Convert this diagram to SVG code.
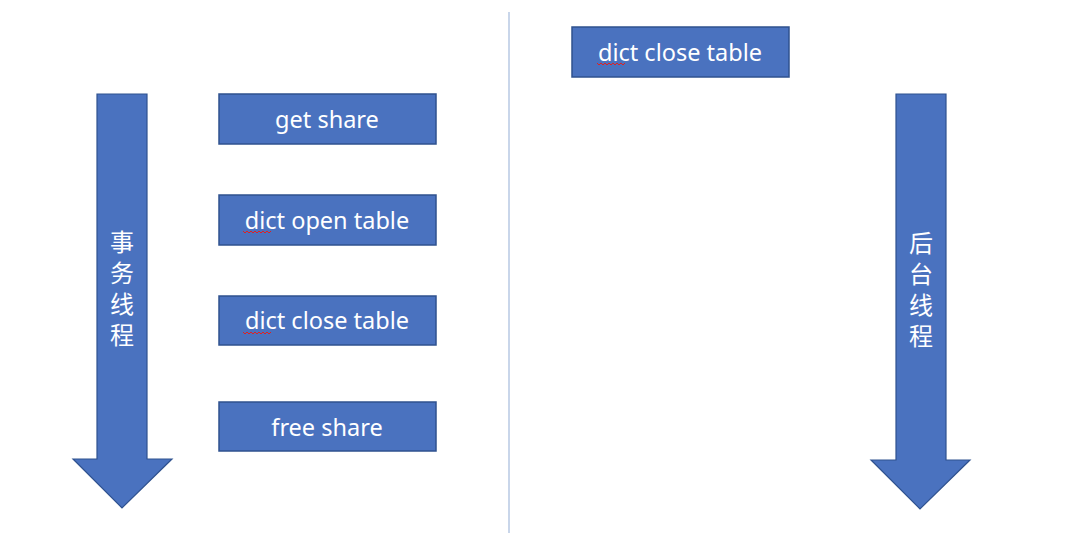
<svg xmlns="http://www.w3.org/2000/svg" width="1080" height="551" viewBox="0 0 1080 551">
<style>
.box{fill:#4A72BF;stroke:#2F528F;stroke-width:1.5}
.arrow{fill:#4A72BF;stroke:#2F528F;stroke-width:1.2}
.lbl{font-family:"Noto Sans","Liberation Sans",sans-serif;font-size:23.5px;fill:#fff;text-anchor:middle;dominant-baseline:central}
.cjk{font-family:"Noto Sans CJK SC",sans-serif;font-size:24px;fill:#fff;writing-mode:vertical-rl;text-orientation:upright;letter-spacing:7px}
.sq{fill:none;stroke:#e02020;stroke-width:1}
</style>
<rect width="1080" height="551" fill="#fff"/>
<g id="divider"><line x1="509" y1="12" x2="509" y2="533" stroke="#c9d6ea" stroke-width="2"/></g>
<g id="tx-thread">
<polygon class="arrow" points="97,94 147,94 147,459 172,459 122,508 73,459 97,459"/>
<text class="cjk" x="122" y="230">事务线程</text>
</g>
<g id="bg-thread">
<polygon class="arrow" points="896,94 946,94 946,460 970,460 920,509 871,460 896,460"/>
<text class="cjk" x="921" y="231">后台线程</text>
</g>
<g id="get-share"><rect class="box" x="219" y="94" width="217" height="50"/><text class="lbl" x="327" y="119">get share</text></g>
<g id="dict-open"><rect class="box" x="219" y="195" width="217" height="50"/><text class="lbl" x="327" y="220">dict open table</text>
<path class="sq" d="M243,231 l2,2 l2,-2 l2,2 l2,-2 l2,2 l2,-2 l2,2 l2,-2 l2,2 l2,-2 l2,2 l2,-2 l2,2 l2,-2"/></g>
<g id="dict-close-left"><rect class="box" x="219" y="296" width="217" height="49"/><text class="lbl" x="327" y="320">dict close table</text>
<path class="sq" d="M243,332 l2,2 l2,-2 l2,2 l2,-2 l2,2 l2,-2 l2,2 l2,-2 l2,2 l2,-2 l2,2 l2,-2 l2,2 l2,-2"/></g>
<g id="free-share"><rect class="box" x="219" y="402" width="217" height="49"/><text class="lbl" x="327" y="427">free share</text></g>
<g id="dict-close-right"><rect class="box" x="572" y="27" width="217" height="50"/><text class="lbl" x="680" y="52">dict close table</text>
<path class="sq" d="M597,63 l2,2 l2,-2 l2,2 l2,-2 l2,2 l2,-2 l2,2 l2,-2 l2,2 l2,-2 l2,2 l2,-2 l2,2 l2,-2"/></g>
<g id="connectors"></g>
</svg>
